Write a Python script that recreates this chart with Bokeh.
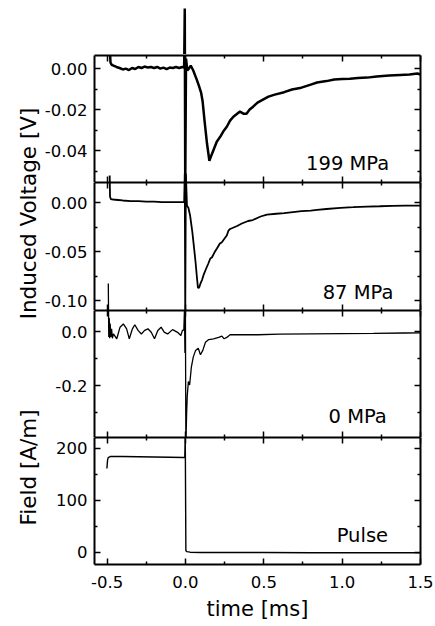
import math
from bokeh.plotting import figure
from bokeh.models import (Range1d, LinearAxis, FixedTicker, PrintfTickFormatter, Label,
                          ColumnDataSource, CustomLabelingPolicy)
from bokeh.layouts import column, row
from bokeh.embed import file_html
from bokeh.resources import INLINE

# ---------------- data ----------------
# time axis ticks [ms]
x_ticks = [-0.5, 0.0, 0.5, 1.0, 1.5]
x_minor = [-0.75, -0.25, 0.25, 0.75, 1.25]

# 199 MPa induced voltage [V]
t1 = [-0.480, -0.478, -0.470, -0.455, -0.440, -0.420, -0.400, -0.380, -0.360, -0.340,
      -0.320, -0.300, -0.280, -0.260, -0.240, -0.220, -0.200, -0.180, -0.160, -0.140,
      -0.120, -0.100, -0.080, -0.060, -0.040, -0.020, -0.008, -0.004, -0.001, 0.004,
      0.012, 0.022, 0.034, 0.050, 0.070, 0.086, 0.100, 0.110, 0.122, 0.138,
      0.153, 0.165, 0.180, 0.200, 0.222, 0.245, 0.264, 0.285, 0.306, 0.330,
      0.348, 0.370, 0.390, 0.410, 0.432, 0.460, 0.495, 0.530, 0.570, 0.630,
      0.680, 0.740, 0.800, 0.840, 0.900, 0.950, 1.000, 1.050, 1.100, 1.160,
      1.220, 1.260, 1.300, 1.370, 1.430, 1.480, 1.500]
v1 = [0.0065, 0.0031, 0.0019, 0.0014, 0.0009, 0.0004, -0.0003, 0.0001, -0.0006, 0.0004,
      -0.0001, 0.0009, 0.0004, 0.0011, 0.0006, 0.0009, 0.0004, 0.0009, 0.0001, 0.0006,
      -0.0001, 0.0006, 0.0004, 0.0009, 0.0004, 0.0009, 0.0006, 0.0295, -0.0570, 0.0050,
      -0.0008, 0.0001, 0.0016, -0.0008, -0.0048, -0.0082, -0.0116, -0.0160, -0.0253, -0.0366,
      -0.0449, -0.0424, -0.0395, -0.0356, -0.0332, -0.0302, -0.0283, -0.0253, -0.0234, -0.0219,
      -0.0209, -0.0219, -0.0219, -0.0199, -0.0185, -0.0165, -0.0150, -0.0136, -0.0126, -0.0114,
      -0.0101, -0.0092, -0.0077, -0.0067, -0.0060, -0.0052, -0.0050, -0.0048, -0.0045, -0.0043,
      -0.0038, -0.0035, -0.0033, -0.0030, -0.0028, -0.0023, -0.0028]
y1_ticks = [0.0, -0.02, -0.04]
y1_minor = [-0.01, -0.03, -0.05]

# 87 MPa induced voltage [V]
t2 = [-0.483, -0.481, -0.476, -0.460, -0.430, -0.400, -0.350, -0.300, -0.250, -0.200,
      -0.150, -0.100, -0.050, -0.008, -0.004, -0.001, 0.003, 0.010, 0.019, 0.030,
      0.044, 0.055, 0.065, 0.073, 0.080, 0.088, 0.096, 0.107, 0.118, 0.128,
      0.145, 0.159, 0.170, 0.185, 0.201, 0.220, 0.233, 0.245, 0.264, 0.275,
      0.285, 0.300, 0.330, 0.360, 0.400, 0.430, 0.480, 0.520, 0.580, 0.630,
      0.700, 0.740, 0.800, 0.840, 0.900, 0.990, 1.070, 1.160, 1.240, 1.320,
      1.400, 1.480, 1.500]
v2 = [0.0279, 0.0064, 0.0039, 0.0034, 0.0029, 0.0024, 0.0018, 0.0018, 0.0013, 0.0013,
      0.0008, 0.0008, 0.0008, 0.0008, 0.0300, -0.1150, 0.0300, -0.0030, -0.0051, -0.0130,
      -0.0294, -0.0458, -0.0611, -0.0754, -0.0870, -0.0867, -0.0826, -0.0785, -0.0729, -0.0690,
      -0.0626, -0.0570, -0.0557, -0.0509, -0.0468, -0.0417, -0.0403, -0.0376, -0.0335, -0.0284,
      -0.0268, -0.0258, -0.0237, -0.0212, -0.0186, -0.0176, -0.0140, -0.0120, -0.0112, -0.0106,
      -0.0092, -0.0086, -0.0079, -0.0072, -0.0063, -0.0051, -0.0045, -0.0038, -0.0035, -0.0031,
      -0.0028, -0.0028, -0.0028]
y2_ticks = [0.0, -0.05, -0.10]
y2_minor = [-0.025, -0.075]

# 0 MPa induced voltage [V]
t3 = [-0.492, -0.489, -0.486, -0.483, -0.480, -0.476, -0.471, -0.466, -0.459, -0.438,
      -0.417, -0.396, -0.375, -0.358, -0.338, -0.323, -0.302, -0.281, -0.260, -0.239,
      -0.218, -0.197, -0.176, -0.155, -0.134, -0.113, -0.082, -0.050, -0.029, -0.019,
      -0.010, -0.006, -0.003, 0.000, 0.003, 0.008, 0.012, 0.019, 0.027, 0.038,
      0.050, 0.065, 0.082, 0.096, 0.111, 0.128, 0.149, 0.180, 0.212, 0.233,
      0.247, 0.264, 0.285, 0.358, 0.463, 0.600, 0.800, 1.000, 1.200, 1.400, 1.500]
v3 = [0.178, -0.020, 0.050, -0.025, 0.030, -0.020, 0.010, -0.025, -0.009, -0.027,
      0.016, 0.028, 0.010, -0.027, 0.010, 0.025, 0.004, -0.009, 0.004, 0.010,
      -0.003, -0.027, 0.004, 0.016, -0.003, -0.009, 0.007, -0.003, -0.015, 0.004,
      0.006, 0.080, -0.080, 0.080, -0.420, -0.300, -0.237, -0.185, -0.198, -0.132,
      -0.095, -0.070, -0.062, -0.086, -0.070, -0.040, -0.030, -0.027, -0.022, -0.017,
      -0.027, -0.022, -0.012, -0.012, -0.012, -0.010, -0.009, -0.008, -0.007, -0.0055, -0.005]
y3_ticks = [0.0, -0.2]
y3_minor = [-0.1, -0.3]

# Pulse field [A/m]
t4 = [-0.501, -0.497, -0.493, -0.480, -0.400, -0.300, -0.200, -0.100, -0.010, -0.004,
      -0.001, 0.003, 0.010, 0.030, 0.100, 0.300, 0.500, 0.800, 1.000, 1.200, 1.500]
v4 = [161, 176, 182, 184, 184, 183.5, 183, 182.5, 182, 182,
      228, 3, 1, 0, -0.5, -0.5, -0.5, -1, -1, -1, -1]
y4_ticks = [0, 100, 200]
y4_minor = [50, 150]

panel_names = ["199 MPa", "87 MPa", "0 MPa", "Pulse"]

# ---------------- layout / style ----------------
FONT = "DejaVu Sans"
TOTAL_W = 435
W_LAB = 41
W_PAN = TOTAL_W - W_LAB
BL = 91 - W_LAB
BR = 15
H_SPIKE, H1, H2, H3, H4 = 54, 128, 128, 127, 189
TOTAL_H = H_SPIKE + H1 + H2 + H3 + H4

xr = Range1d(-0.58, 1.5)
src1 = ColumnDataSource(dict(t=t1, v=v1))
src2 = ColumnDataSource(dict(t=t2, v=v2))
src3 = ColumnDataSource(dict(t=t3, v=v3))
src4 = ColumnDataSource(dict(t=t4, v=v4))


def make_fig(h, yr, top, bottom):
    p = figure(width=W_PAN, height=h, x_range=xr, y_range=Range1d(*yr),
               x_axis_location=None, y_axis_location=None,
               toolbar_location=None, output_backend="svg",
               min_border_left=BL, min_border_right=BR,
               min_border_top=top, min_border_bottom=bottom)
    p.xgrid.visible = False
    p.ygrid.visible = False
    p.outline_line_color = None
    p.background_fill_color = "white"
    p.border_fill_color = "white"
    return p


def style_axis(ax, show, fmt):
    ax.formatter = PrintfTickFormatter(format=fmt)
    ax.axis_line_color = "black"
    ax.axis_line_width = 2
    ax.major_tick_in = 6
    ax.major_tick_out = 0
    ax.minor_tick_in = 3
    ax.minor_tick_out = 0
    ax.major_tick_line_color = "black"
    ax.minor_tick_line_color = "black"
    ax.major_tick_line_width = 1.5
    ax.minor_tick_line_width = 1.5
    if show:
        ax.major_label_text_font = FONT
        ax.major_label_text_font_size = "16.5px"
        ax.major_label_text_color = "black"
        ax.major_label_standoff = 7
    else:
        ax.major_label_text_font_size = "0px"
        ax.major_label_standoff = 0
        ax.major_label_policy = CustomLabelingPolicy(
            code="for (const i of Array.from(indices)) { indices.unset(i) }\nreturn indices")


def add_axes(p, yt, ym, yfmt, xlabels=False):
    for loc in ("left", "right"):
        ax = LinearAxis(ticker=FixedTicker(ticks=yt, minor_ticks=ym))
        style_axis(ax, loc == "left", yfmt)
        p.add_layout(ax, loc)
    for loc in ("above", "below"):
        ax = LinearAxis(ticker=FixedTicker(ticks=x_ticks, minor_ticks=x_minor))
        show = xlabels and loc == "below"
        style_axis(ax, show, "%.1f")
        if show:
            ax.major_label_standoff = 11
            ax.axis_label = "time [ms]"
            ax.axis_label_text_font = FONT
            ax.axis_label_text_font_size = "21px"
            ax.axis_label_text_font_style = "normal"
            ax.axis_label_text_color = "black"
            ax.axis_label_standoff = 6
        p.add_layout(ax, loc)


def add_name(p, text, x, y):
    p.add_layout(Label(x=x, y=y, text=text, text_align="right", text_baseline="alphabetic",
                       text_font=FONT, text_font_size="19.5px", text_color="black"))


# spike continuation above the top panel (same scale as 199 MPa panel)
ps = make_fig(H_SPIKE, (0.0070, 0.0334), 0, 0)
ps.line("t", "v", source=src1, line_color="black", line_width=2.5)

# panel 1 : 199 MPa
p1 = make_fig(H1, (-0.0555, 0.0065), 1, 0)
p1.extra_y_ranges = {"p2": Range1d(0.0208, 0.1508)}
p1.line("t", "v", source=src2, line_color="black", line_width=1.8, y_range_name="p2")
p1.line("t", "v", source=src1, line_color="black", line_width=2.5)
add_axes(p1, y1_ticks, y1_minor, "%.2f")
add_name(p1, panel_names[0], 1.30, -0.046)

# panel 2 : 87 MPa
p2 = make_fig(H2, (-0.1102, 0.0208), 0, 0)
p2.extra_y_ranges = {"p3": Range1d(0.0778, 0.5519)}
p2.line("t", "v", source=src3, line_color="black", line_width=1.3, y_range_name="p3")
p2.line("t", "v", source=src2, line_color="black", line_width=1.8)
add_axes(p2, y2_ticks, y2_minor, "%.2f")
add_name(p2, panel_names[1], 1.327, -0.0915)

# panel 3 : 0 MPa
p3 = make_fig(H3, (-0.3926, 0.0778), 0, 0)
p3.line("t", "v", source=src3, line_color="black", line_width=1.3)
add_axes(p3, y3_ticks, y3_minor, "%.1f")
add_name(p3, panel_names[2], 1.285, -0.315)

# panel 4 : Pulse
p4 = make_fig(H4, (-23.7, 220.6), 0, H4 - 127)
p4.line("t", "v", source=src4, line_color="black", line_width=1.4)
add_axes(p4, y4_ticks, y4_minor, "%d", xlabels=True)
add_name(p4, panel_names[3], 1.293, 32)

# left strip holding the vertical axis titles
pl = figure(width=W_LAB, height=TOTAL_H, x_range=Range1d(0, W_LAB), y_range=Range1d(0, TOTAL_H),
            x_axis_location=None, y_axis_location=None, toolbar_location=None,
            output_backend="svg", min_border=0)
pl.xgrid.visible = False
pl.ygrid.visible = False
pl.outline_line_color = None
pl.add_layout(Label(x=28, y=TOTAL_H - 213, text="Induced Voltage [V]", angle=math.pi / 2,
                    text_align="center", text_baseline="alphabetic",
                    text_font=FONT, text_font_size="21.5px", text_color="black"))
pl.add_layout(Label(x=28, y=TOTAL_H - 467, text="Field [A/m]", angle=math.pi / 2,
                    text_align="center", text_baseline="alphabetic",
                    text_font=FONT, text_font_size="21.5px", text_color="black"))

layout = row(pl, column(ps, p1, p2, p3, p4))
open("out.html", "w").write(file_html(layout, INLINE))
